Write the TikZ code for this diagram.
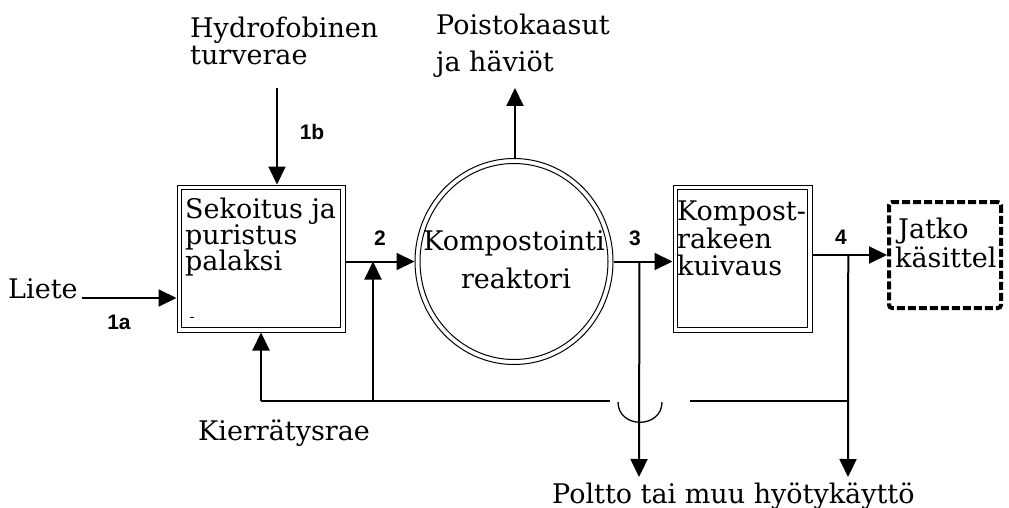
\documentclass[tikz,border=0pt]{standalone}
\usepackage{fontspec}
\setmainfont{DejaVu Serif}
\setsansfont{Liberation Sans}
\usetikzlibrary{arrows.meta,shapes.geometric}
\begin{document}
\begin{tikzpicture}[x=1pt,y=-1pt,
  txt/.style={font=\fontsize{27}{27}\selectfont, inner sep=0pt, anchor=base west},
  ctxt/.style={txt, anchor=base},
  num/.style={font=\sffamily\bfseries\fontsize{21}{21}\selectfont, inner sep=0pt},
  flow/.style={line width=2pt, -{Triangle[length=18pt,width=17pt]}},
  wire/.style={line width=2pt},
  procbox/.style={draw, line width=1pt, inner sep=0pt},
  innerline/.style={line width=1.6pt},
  storebox/.style={draw, line width=4pt, dash pattern=on 8pt off 3pt,
    rounded corners=3pt, inner sep=0pt}
]
\useasboundingbox[fill=white] (0,0) rectangle (1009,508);

% process blocks
\node[procbox, minimum width=168pt, minimum height=147pt] (mix) at (261,258.5) {};
\draw[innerline] ([shift={(5,5)}]mix.north west) rectangle ([shift={(-5,-5)}]mix.south east);
\node[ellipse, draw, line width=1pt, minimum width=198pt, minimum height=206pt, inner sep=0pt] (reac) at (514,261.5) {};
\draw[line width=1pt] (reac.center) ellipse [x radius=94pt, y radius=98pt];
\node[procbox, minimum width=139pt, minimum height=147pt] (dry) at (742.5,258.5) {};
\draw[innerline] ([shift={(5,5)}]dry.north west) rectangle ([shift={(-5,-5)}]dry.south east);
\node[storebox, minimum width=112pt, minimum height=106pt] (post) at (945,255) {};

% block texts
\node[txt] (mixA) at (185,218) {Sekoitus ja};
\node[txt] (mixB) at (185,244) {puristus};
\node[txt] (mixC) at (185,270) {palaksi};
\draw[line width=1pt] (190,317) -- (194,317);
\node[ctxt] (reacA) at (514,250) {Kompostointi};
\node[ctxt] (reacB) at (516,288) {reaktori};
\node[txt] (dryA) at (677,220) {Kompost-};
\node[txt] (dryB) at (677,248) {rakeen};
\node[txt] (dryC) at (677,275) {kuivaus};
\node[txt] (postA) at (898,238) {Jatko};
\node[txt] (postB) at (895,267) {käsittel};

% outside texts
\node[txt] (peatA) at (190,38) {Hydrofobinen};
\node[txt] (peatB) at (190,65) {turverae};
\node[txt] (gasA) at (436,35) {Poistokaasut};
\node[txt] (gasB) at (436,72) {ja häviöt};
\node[txt] (sludge) at (8,298) {Liete};
\node[txt] (recyc) at (198,440) {Kierrätysrae};
\node[txt] (use) at (552,503) {Poltto tai muu hyötykäyttö};

% stream numbers
\node[num] (n1a) at (119,322) {1a};
\node[num] (n1b) at (312,132) {1b};
\node[num] (n2) at (380,238) {2};
\node[num] (n3) at (635,238) {3};
\node[num] (n4) at (841,237) {4};

% connector end points
\coordinate (sludgeStart) at (82,298);
\coordinate (peatStart) at (277,88);
\coordinate (gasTip) at (515,88);
\path (reac.east) -- (dry.west |- reac.east) coordinate[pos=0.44] (j3);
\path (dry.east |- post.west) -- (post.west) coordinate[pos=0.48] (j4);
\coordinate (out3) at (639,477);
\coordinate (out4) at (848,477);
\coordinate (retR) at (848,401);
\coordinate (gapR) at (690,401);
\coordinate (gapL) at (610,401);
\coordinate (jumpL) at (618,402);
\coordinate (jumpR) at (662,402);
\coordinate (feedA) at (373,401);
\coordinate (feedB) at (261,401);

% main flow
\draw[flow] (sludgeStart) -- (sludgeStart -| mix.west);
\draw[flow] (peatStart) -- (peatStart |- mix.north);
\draw[flow] (mix.east |- reac.west) -- (reac.west);
\draw[flow] (reac.north -| gasTip) -- (gasTip);
\draw[flow] (reac.east) -- (dry.west |- reac.east);
\draw[flow] (dry.east |- post.west) -- (post.west);
\draw[flow] (j3) -- (out3);
\draw[flow] (j4) -- (out4);

% recycle line with line jump
\draw[wire] (retR) -- (gapR);
\draw[line width=1.3pt] (jumpL) .. controls (618,429) and (662,429) .. (jumpR);
\draw[wire] (gapL) -- (feedB);
\draw[flow] (feedB) -- (feedB |- mix.south);
\draw[flow] (feedA) -- (feedA |- reac.west);
\end{tikzpicture}
\end{document}
